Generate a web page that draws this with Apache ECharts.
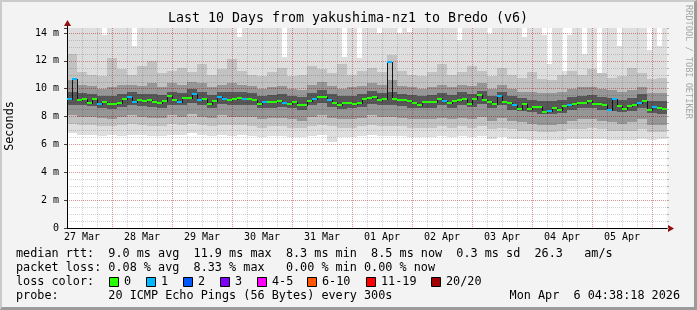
<!DOCTYPE html>
<html><head><meta charset="utf-8">
<script src="https://cdn.jsdelivr.net/npm/echarts@6/dist/echarts.min.js"></script>
<style>
html,body{margin:0;padding:0;background:#f3f3f3;}
#wrap{position:relative;width:697px;height:310px;overflow:hidden;}
#chart{position:absolute;left:0;top:0;width:697px;height:310px;}
#frame{position:absolute;left:0;top:0;width:697px;height:310px;box-sizing:border-box;border-left:2px solid #cbcbcb;border-top:2px solid #cbcbcb;border-right:3px solid #9b9b9b;border-bottom:3px solid #9b9b9b;pointer-events:none;}
</style></head>
<body><div id="wrap"><div id="chart"></div><div id="frame"></div></div>
<script>
// ---------------- data ----------------
const titleText = 'Last 10 Days from yakushima-nz1 to Bredo (v6)';
const dayLabels = ['27 Mar','28 Mar','29 Mar','30 Mar','31 Mar','01 Apr','02 Apr','03 Apr','04 Apr','05 Apr'];
const yTicks = [0,2,4,6,8,10,12,14];
const yTickLabels = ['0','2 m','4 m','6 m','8 m','10 m','12 m','14 m'];
const Y_MAX = 14.36;           // ms, top of plot
const X_START = 6, X_END = 246; // hours since 27 Mar 00:00
const MEDIAN_STEP = 2;          // hours per median column
const SMOKE_STEP = 4;           // hours per smoke column

// median rtt per 2h column (ms)
const medianRtt = [
 9.24,10.67,9.2,9.24,9.0,9.28,8.9,9.04,8.92,8.9,
 8.98,9.24,9.4,9.04,9.16,9.1,9.2,9.04,8.98,9.14,
 9.47,9.16,9.04,9.33,9.33,9.62,9.2,9.28,8.92,9.12,
 9.4,9.24,9.16,9.28,9.33,9.28,9.24,9.2,8.9,9.04,
 9.04,9.04,9.12,9.0,8.92,9.04,8.86,8.86,9.12,9.28,
 9.4,9.4,9.16,8.98,8.86,8.98,8.98,8.92,8.98,9.24,
 9.33,9.4,9.16,9.24,11.9,9.28,9.16,9.16,9.12,8.98,
 8.86,9.04,9.04,9.04,9.28,9.14,8.98,9.1,9.16,9.28,
 8.92,9.24,9.52,9.2,9.04,8.9,9.45,9.04,8.98,8.81,
 8.57,8.92,8.57,8.71,8.69,8.33,8.42,8.62,8.45,8.74,
 8.86,8.92,8.98,8.98,9.1,8.92,8.92,8.86,8.5,9.28,
 8.74,8.52,8.76,8.81,9.0,9.14,8.45,8.69,8.62,8.52];
// lost pings (of 20) per column
const lossCount = [
 1,1,0,0,0,0,1,0,0,0,
 0,0,1,1,0,0,0,0,0,0,
 0,0,1,0,0,1,1,0,0,0,
 1,1,0,0,0,1,0,0,0,1,
 0,0,0,1,0,0,0,0,0,1,
 0,0,1,0,0,0,0,0,0,0,
 0,0,0,0,1,0,0,0,0,0,
 0,0,0,0,0,1,0,0,0,0,
 0,0,0,0,0,0,1,0,0,1,
 0,0,0,0,0,0,1,0,0,0,
 1,0,0,0,0,0,0,0,1,1,
 0,0,0,0,1,0,0,1,0,0];
// highest ping per 2h column (ms)
const smokeMax = [
 15,15,15,15,15,15,15,13.85,15,15,
 15,15,15,13.1,15,15,15,15,15,15,
 15,15,15,15,15,15,15,15,15,15,
 15,15,15,15,13.7,15,15,15,15,15,
 15,15,15,12.3,15,15,15,15,15,15,
 15,15,15,15,15,12.3,15,15,12.2,15,
 15,15,14.0,15,15,15,14.0,15,14.1,15,
 15,15,15,15,15,15,15,15,13.5,15,
 15,15,15,15,13.9,15,15,15,15,15,
 15,13.7,15,15,15,13.85,11.8,15,15,11.3,
 13.85,15,15,12.5,15,15,11.1,15,15,15,
 13.1,15,15,15,15,15,12.8,15,13.1,15];
// smoke quantiles per 4h column (ms)
const smokeMin = [6.8,6.7,6.7,6.6,6.7,6.6,6.7,6.7,6.6,6.6,6.7,6.7,6.8,6.7,6.6,6.7,6.6,6.7,6.6,6.5,
 6.6,6.6,6.5,6.5,6.6,6.7,6.2,6.5,6.5,6.6,6.7,6.6,6.6,6.6,6.5,6.5,6.5,6.6,6.5,6.6,
 6.5,6.6,6.4,6.5,6.4,6.4,6.3,6.3,6.3,6.3,6.4,6.4,6.4,6.4,6.3,6.3,6.3,6.4,6.3,6.4];
const smokeP10 = [7.5,7.4,7.4,7.3,7.3,7.4,7.5,7.4,7.3,7.3,7.5,7.4,7.5,7.4,7.3,7.4,7.4,7.4,7.3,7.2,
 7.3,7.3,7.2,7.2,7.3,7.4,7.3,7.2,7.2,7.3,7.4,7.3,7.3,7.3,7.2,7.2,7.2,7.3,7.2,7.3,
 7.2,7.3,7.1,7.2,7.1,7.0,7.0,6.9,6.9,7.0,7.1,7.1,7.2,7.1,7.0,7.0,7.0,7.1,6.9,6.9];
const smokeP25 = [8.1,8.0,8.0,7.9,7.8,8.0,8.1,8.0,7.9,7.9,8.1,8.0,8.2,8.0,7.9,8.1,8.0,8.0,8.0,7.8,
 7.9,7.9,7.8,7.7,8.0,8.1,7.9,7.8,7.8,7.9,8.1,8.0,8.0,7.9,7.8,7.8,7.8,7.9,7.8,7.9,
 7.8,8.0,7.7,7.9,7.7,7.6,7.5,7.4,7.4,7.5,7.7,7.8,7.8,7.7,7.6,7.5,7.6,7.8,7.4,7.4];
const smokeP40 = [8.85,8.8,8.75,8.6,8.55,8.7,8.8,8.75,8.7,8.65,8.85,8.8,9.0,8.85,8.65,8.9,8.8,8.85,8.8,8.6,
 8.65,8.7,8.6,8.5,8.8,8.95,8.7,8.55,8.6,8.7,8.9,8.8,8.85,8.75,8.65,8.6,8.65,8.8,8.65,8.8,
 8.7,8.9,8.6,8.8,8.5,8.4,8.3,8.15,8.2,8.25,8.5,8.6,8.6,8.5,8.4,8.3,8.4,8.65,8.25,8.2];
const smokeP60 = [9.8,9.7,9.65,9.5,9.45,9.6,9.75,9.65,9.6,9.55,9.8,9.7,9.95,9.75,9.55,9.8,9.75,9.8,9.7,9.5,
 9.55,9.6,9.5,9.4,9.7,9.9,9.6,9.45,9.5,9.6,9.85,9.7,9.8,9.65,9.55,9.5,9.55,9.7,9.55,9.75,
 9.6,9.85,9.5,9.75,9.45,9.3,9.2,9.1,9.1,9.2,9.4,9.5,9.55,9.4,9.35,9.2,9.3,9.6,9.15,9.1];
const smokeP75 = [10.6,10.3,10.2,10.0,10.1,10.3,10.3,10.2,10.4,10.1,10.4,10.3,10.5,10.4,10.1,10.3,10.4,10.3,10.2,10.0,
 10.1,10.2,10.0,9.9,10.3,10.5,10.2,10.0,10.1,10.2,10.4,10.3,10.6,10.2,10.1,10.0,10.1,10.3,10.1,10.3,
 10.2,10.4,10.0,10.3,10.0,9.8,9.8,9.7,9.7,9.8,10.0,10.1,10.1,10.0,9.9,9.8,9.9,10.1,9.7,9.7];
const smokeP90 = [12.5,11.2,11.0,10.9,12.2,11.4,11.0,11.6,12.0,11.1,11.3,11.5,11.2,11.8,11.0,11.4,12.1,11.3,11.0,10.9,
 11.2,11.5,10.9,11.0,11.6,11.4,11.1,11.8,11.0,11.3,11.5,11.2,12.4,11.3,11.0,10.9,11.2,11.8,11.0,11.2,
 11.6,11.3,10.9,11.5,11.0,10.8,11.2,10.7,10.6,11.0,11.3,11.0,11.4,11.1,10.8,10.9,11.5,11.1,10.7,10.8];

const lossLabels = ['0','1','2','3','4-5','6-10','11-19','20/20'];
const lossColors = ['#26ff00','#00b8ff','#0059ff','#7e00ff','#ff00ff','#ff5500','#ff0000','#a10000'];
const statsLine1 = 'median rtt:  9.0 ms avg  11.9 ms max  8.3 ms min  8.5 ms now  0.3 ms sd  26.3   am/s';
const statsLine2 = 'packet loss: 0.08 % avg  8.33 % max   0.00 % min 0.00 % now';
const probeLine = 'probe:       20 ICMP Echo Pings (56 Bytes) every 300s';
const dateText = 'Mon Apr  6 04:38:18 2026';
const yAxisName = 'Seconds';
const watermark = 'RRDTOOL / TOBI OETIKER';

// ---------------- chart ----------------
const MONO = "'DejaVu Sans Mono', monospace";
function lossClass(n){ if(n<=0) return 0; if(n===1) return 1; if(n===2) return 2; if(n===3) return 3; if(n<=5) return 4; if(n<=10) return 5; if(n<=19) return 6; return 7; }

const medianData = medianRtt.map((v,i)=>[X_START+i*MEDIAN_STEP, X_START+(i+1)*MEDIAN_STEP, v, lossCount[i], i>0?medianRtt[i-1]:v]);
const outerData = smokeMax.map((v,i)=>[X_START+i*MEDIAN_STEP, X_START+(i+1)*MEDIAN_STEP, smokeMin[Math.floor(i*MEDIAN_STEP/SMOKE_STEP)], v]);
const innerData = smokeP10.map((v,j)=>[X_START+j*SMOKE_STEP, X_START+(j+1)*SMOKE_STEP, v, smokeP25[j], smokeP40[j], smokeP60[j], smokeP75[j], smokeP90[j]]);

function yPix(api, t, v){ return Math.round(api.coord([t, Math.min(v, Y_MAX)])[1]); }
function xPix(api, t){ return Math.round(api.coord([t, 0])[0]); }
function band(api, t0, t1, lo, hi, color){
  const x0 = xPix(api,t0), x1 = xPix(api,t1);
  const yt = yPix(api,t0,hi), yb = yPix(api,t0,lo);
  return {type:'rect', shape:{x:x0, y:yt, width:x1-x0, height:Math.max(0,yb-yt)}, style:{fill:color}};
}
function renderOuter(params, api){
  const t0=api.value(0), t1=api.value(1);
  return band(api,t0,t1,api.value(2),api.value(3),'#dedede');
}
function renderInner(params, api){
  const t0=api.value(0), t1=api.value(1);
  return {type:'group', children:[
    band(api,t0,t1,api.value(2),api.value(7),'#c2c2c2'),
    band(api,t0,t1,api.value(3),api.value(6),'#969696'),
    band(api,t0,t1,api.value(4),api.value(5),'#585858')
  ]};
}
function renderMedian(params, api){
  const t0=api.value(0), t1=api.value(1), v=api.value(2), loss=api.value(3), pv=api.value(4);
  const x0 = xPix(api,t0), x1 = xPix(api,t1);
  const y = yPix(api,t0,v);
  const ch = [];
  if (params.dataIndex > 0) {
    const py = yPix(api,t0,pv);
    if (py !== y) ch.push({type:'rect', shape:{x:x0, y:Math.min(py,y), width:1, height:Math.abs(py-y)+1}, style:{fill:'#151515'}});
  }
  ch.push({type:'rect', shape:{x:x0, y:y-1, width:x1-x0, height:2}, style:{fill:lossColors[lossClass(loss)]}});
  return {type:'group', children:ch};
}

const graphics = [];
graphics.push({type:'text', x:348, y:19, style:{text:titleText, font:"13.3px "+MONO, fill:'#000', textAlign:'center', textVerticalAlign:'middle', align:'center', verticalAlign:'middle'}});
graphics.push({type:'text', x:10, y:126, rotation:Math.PI/2, style:{text:yAxisName, font:"11.8px "+MONO, fill:'#000', textAlign:'center', textVerticalAlign:'middle', align:'center', verticalAlign:'middle'}});
graphics.push({type:'text', x:688, y:62, rotation:-Math.PI/2, style:{text:watermark, font:"8.6px "+MONO, fill:'#a8a8a8', textAlign:'center', textVerticalAlign:'middle', align:'center', verticalAlign:'middle'}});
// axis arrows
graphics.push({type:'line', shape:{x1:67.5,y1:28,x2:67.5,y2:23}, style:{stroke:'#000', lineWidth:1}});
graphics.push({type:'polygon', shape:{points:[[64,26],[71,26],[67.5,20]]}, style:{fill:'#8f1010'}});
graphics.push({type:'polygon', shape:{points:[[668,225],[668,232],[674,228.5]]}, style:{fill:'#8f1010'}});
// legend text
const LF = "11.8px "+MONO;
const lines = [[statsLine1,254],[statsLine2,268],['loss color:',282],[probeLine,296]];
lines.forEach(([t,y])=>graphics.push({type:'text', x:16, y:y, style:{text:t, font:LF, fill:'#000', textAlign:'left', textVerticalAlign:'middle', align:'left', verticalAlign:'middle'}}));
graphics.push({type:'text', x:680, y:296, style:{text:dateText, font:LF, fill:'#000', textAlign:'right', textVerticalAlign:'middle', align:'right', verticalAlign:'middle'}});
const boxX = [109,146,183,220,257,307,366,431];
lossLabels.forEach((lab,k)=>{
  graphics.push({type:'rect', shape:{x:boxX[k]+0.5, y:277.5, width:9, height:9}, style:{fill:lossColors[k], stroke:'#000', lineWidth:1}});
  graphics.push({type:'text', x:boxX[k]+15, y:282, style:{text:lab, font:LF, fill:'#000', textAlign:'left', textVerticalAlign:'middle', align:'left', verticalAlign:'middle'}});
});

const chart = echarts.init(document.getElementById('chart'), null, {renderer:'canvas'});
const MAJOR = 'rgba(225,0,0,0.3)';
const MINOR = 'rgba(0,0,0,0.17)';
chart.setOption({
  animation:false,
  backgroundColor:'#f3f3f3',
  grid:[
    {left:67, right:30, top:28, bottom:82, show:true, backgroundColor:'#ffffff', borderWidth:0},
    {left:67+(24-X_START)*2.5, width:(240-24)*2.5, top:28, bottom:82, show:false}
  ],
  xAxis:[
    {gridIndex:0, type:'value', min:X_START, max:X_END, interval:6, z:7,
     axisLine:{show:true, onZero:false, lineStyle:{color:'#000', width:1}},
     axisTick:{show:false},
     axisLabel:{color:'#000', fontFamily:MONO, fontSize:10, margin:4,
       formatter:(v)=> (v%24===12) ? (dayLabels[(v-12)/24]||'') : ''},
     splitLine:{show:true, showMinLine:false, showMaxLine:false, lineStyle:{color:MINOR, type:[1,1], width:1}}},
    {gridIndex:1, type:'value', min:24, max:240, interval:24, z:7,
     axisLine:{show:false}, axisTick:{show:false}, axisLabel:{show:false},
     splitLine:{show:true, lineStyle:{color:MAJOR, type:[1,1], width:1}}}
  ],
  yAxis:[
    {gridIndex:0, type:'value', min:0, max:Y_MAX, interval:2, z:8,
     axisLine:{show:true, lineStyle:{color:'#000', width:1}},
     axisTick:{show:true, length:3, lineStyle:{color:'#444'}},
     axisLabel:{color:'#000', fontFamily:MONO, fontSize:10, margin:8,
       formatter:(v)=>{ const k=yTicks.indexOf(v); return k>=0?yTickLabels[k]:''; }},
     splitLine:{show:true, showMinLine:false, showMaxLine:false, lineStyle:{color:MAJOR, type:[1,1], width:1}}},
    {gridIndex:0, type:'value', min:0, max:Y_MAX, interval:0.5, z:6, position:'right',
     axisLine:{show:false}, axisTick:{show:true, length:2, lineStyle:{color:'#aaa'}}, axisLabel:{show:false},
     splitLine:{show:true, showMinLine:false, showMaxLine:false, lineStyle:{color:MINOR, type:[1,1], width:1}}},
    {gridIndex:1, type:'value', min:0, max:1, show:false}
  ],
  graphic:graphics,
  series:[
    {type:'custom', name:'smoke-outer', xAxisIndex:0, yAxisIndex:0, z:1, renderItem:renderOuter, data:outerData, encode:{x:[0,1], y:[2,3]}},
    {type:'custom', name:'smoke-inner', xAxisIndex:0, yAxisIndex:0, z:2, renderItem:renderInner, data:innerData, encode:{x:[0,1], y:[2,7]}},
    {type:'custom', name:'median', xAxisIndex:0, yAxisIndex:0, z:10, renderItem:renderMedian, data:medianData, encode:{x:[0,1], y:2}}
  ]
});
</script>
</body></html>
